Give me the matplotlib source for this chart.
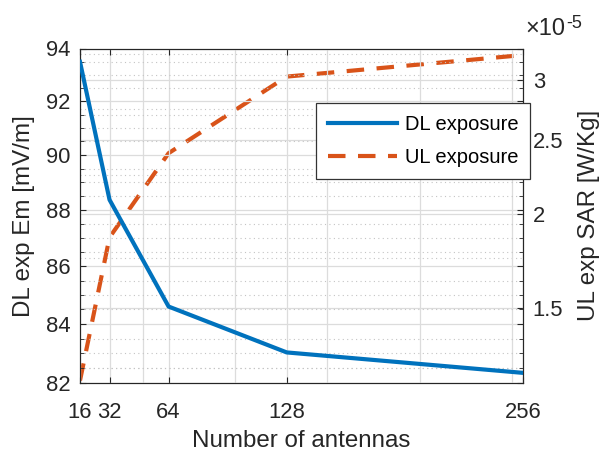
import numpy as np
import matplotlib
matplotlib.use('Agg')
import matplotlib.pyplot as plt
from matplotlib.ticker import NullFormatter

plt.rcParams['font.family'] = ['Liberation Sans', 'DejaVu Sans']

# data
antennas = [16, 32, 64, 128, 256]
dl_em = [93.49, 88.37, 84.60, 83.03, 82.34]          # mV/m
ul_sar = [1.205e-5, 1.861e-5, 2.403e-5, 3.032e-5, 3.237e-5]  # W/Kg

xtick_vals = [16, 32, 64, 128, 256]
xgrid_extra = [50, 100, 150, 200, 250]
left_ticks = [82, 84, 86, 88, 90, 92, 94]
right_ticks = [1.5e-5, 2e-5, 2.5e-5, 3e-5]
right_labels = ['1.5', '2', '2.5', '3']

blue = '#0072BD'
orange = '#D95319'
gmaj = '#dcdcdc'
gmin = '#c4c4c4'
axc = '#262626'

fig = plt.figure(figsize=(6.03, 4.53), dpi=100)
ax = fig.add_axes([80/603, 1-383/453, 443/603, 334.5/453])
ax2 = ax.twinx()

ax.set_yscale('log')
ax2.set_yscale('log')

# left axis
l1, = ax.plot(antennas, dl_em, color=blue, lw=3, label='DL exposure', zorder=3)
ax.set_xlim(16, 256)
ax.set_ylim(82, 94)
ax.set_xticks(xtick_vals)
ax.set_xticks(xgrid_extra, minor=True)
ax.set_yticks(left_ticks, labels=[str(v) for v in left_ticks])
mins = np.arange(82.5, 94, 0.5)
ax.set_yticks(mins[mins % 2 != 0], minor=True)
ax.yaxis.set_minor_formatter(NullFormatter())
ax.tick_params(axis='both', which='major', direction='in', length=4, labelsize=15.8,
               colors=axc, top=True, right=True)
ax.tick_params(axis='y', which='major', pad=7)
ax.tick_params(axis='x', which='major', pad=14)
ax.tick_params(axis='y', which='minor', direction='in', length=3, right=True, colors=axc)
ax.tick_params(axis='x', which='minor', length=0)
ax.grid(True, which='major', color=gmaj, lw=0.9, ls='-')
ax.grid(True, which='minor', axis='x', color=gmaj, lw=0.9, ls='-')
ax.grid(True, which='minor', axis='y', color=gmin, lw=0.8, ls=(0, (1, 3)))
ax.set_axisbelow(True)

# right axis
l2, = ax2.plot(antennas, ul_sar, color=orange, lw=3, dashes=(4.2, 3.0),
               label='UL exposure', zorder=3)
ax2.set_ylim(1.196e-5, 3.302e-5)
ax2.set_yticks(right_ticks, labels=right_labels)
ax2.set_yticks([1.25e-5, 1.75e-5, 2.25e-5, 2.75e-5, 3.25e-5], minor=True)
ax2.yaxis.set_minor_formatter(NullFormatter())
ax2.tick_params(axis='y', which='major', direction='in', length=4, labelsize=15.8,
                colors=axc, pad=7)
ax2.tick_params(axis='y', which='minor', length=0)
ax2.grid(True, which='major', axis='y', color=gmaj, lw=0.9, ls='-')
ax2.grid(True, which='minor', axis='y', color=gmin, lw=0.8, ls=(0, (1, 3)))
for sp in ax2.spines.values():
    sp.set_color(axc)
for sp in ax.spines.values():
    sp.set_color(axc)

# left axes on top, right axes supplies the white background
ax.set_zorder(ax2.get_zorder() + 1)
ax.patch.set_visible(False)
ax2.patch.set_visible(True)
ax2.patch.set_facecolor('white')

ax.set_xlabel('Number of antennas', fontsize=17.4, color=axc, labelpad=5)
ax.set_ylabel('DL exp Em [mV/m]', fontsize=17.4, color=axc)
ax.yaxis.set_label_coords(-0.102, 0.5)
ax2.set_ylabel('UL exp SAR [W/Kg]', fontsize=17.4, color=axc)
ax2.yaxis.set_label_coords(1.124, 0.5)

# exponent label of the right axis
fig.text(525/603, 1-35/453, '\u00d710', fontsize=17, color=axc, ha='left', va='baseline')
fig.text(566/603, 1-28/453, '-5', fontsize=13, color=axc, ha='left', va='baseline')

leg = ax.legend(handles=[l1, l2], loc='upper left', bbox_to_anchor=(0.533, 0.838),
                fontsize=14.5, frameon=True, fancybox=False, framealpha=1,
                edgecolor='#333333', handlelength=3.4, handletextpad=0.4,
                labelspacing=0.7, borderpad=0.6, borderaxespad=0)
leg.get_frame().set_linewidth(0.9)
leg.set_zorder(10)

fig.savefig('out.png', dpi=100)
